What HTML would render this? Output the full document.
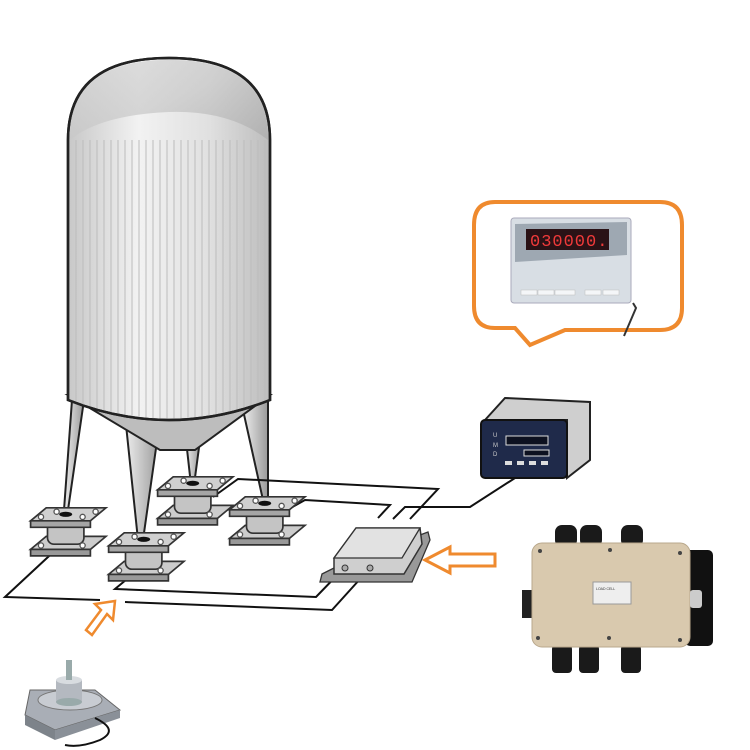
<!DOCTYPE html>
<html><head><style>html,body{margin:0;padding:0;background:#fff}svg{display:block}</style></head>
<body>
<svg width="750" height="750" viewBox="0 0 750 750" xmlns="http://www.w3.org/2000/svg" font-family="Liberation Sans, sans-serif">
<defs>
<linearGradient id="tank" x1="0" x2="1" y1="0" y2="0">
<stop offset="0" stop-color="#c8c8c8"/><stop offset="0.35" stop-color="#f2f2f2"/><stop offset="0.7" stop-color="#e0e0e0"/><stop offset="1" stop-color="#bdbdbd"/></linearGradient>
<pattern id="stripes" width="7" height="10" patternUnits="userSpaceOnUse"><rect width="7" height="10" fill="none"/><line x1="6" y1="0" x2="6" y2="10" stroke="#bcbcbc" stroke-width="1"/></pattern>
<linearGradient id="dome" x1="0" x2="1" y1="0" y2="1"><stop offset="0" stop-color="#d8d8d8"/><stop offset="0.5" stop-color="#c8c8c8"/><stop offset="1" stop-color="#ababab"/></linearGradient>
<linearGradient id="leg" x1="0" x2="1"><stop offset="0" stop-color="#eee"/><stop offset="1" stop-color="#999"/></linearGradient>
<g id="cell">
<polygon points="-28,8 18,8 30,-2 -16,-2" fill="#ccc" stroke="#333" stroke-width="1.3"/>
<polygon points="-28,8 18,8 18,13 -28,13" fill="#999" stroke="#333" stroke-width="1.3"/>
<rect x="-15" y="-14" width="28" height="18" rx="5" fill="#c4c4c4" stroke="#333" stroke-width="1.3"/>
<polygon points="-28,-14 18,-14 30,-24 -16,-24" fill="#d0d0d0" stroke="#333" stroke-width="1.3"/>
<polygon points="-28,-14 18,-14 18,-9 -28,-9" fill="#a5a5a5" stroke="#333" stroke-width="1.3"/>
<circle cx="-20" cy="-17" r="2" fill="#fff" stroke="#555"/><circle cx="12" cy="-17" r="2" fill="#fff" stroke="#555"/>
<circle cx="-8" cy="-21" r="2" fill="#fff" stroke="#555"/><circle cx="22" cy="-21" r="2" fill="#fff" stroke="#555"/>
<circle cx="-20" cy="5" r="2" fill="#fff" stroke="#555"/><circle cx="12" cy="5" r="2" fill="#fff" stroke="#555"/>
<ellipse cx="-1" cy="-19" rx="5" ry="2" fill="#111"/>
</g>
</defs>
<!-- legs -->
<polygon points="72,400 84,400 68,510 64,510" fill="url(#leg)" stroke="#222" stroke-width="2"/>
<polygon points="125,415 160,420 143,540 138,540" fill="url(#leg)" stroke="#222" stroke-width="2"/>
<polygon points="186,440 200,440 194,485 191,485" fill="url(#leg)" stroke="#222" stroke-width="2"/>
<polygon points="243,410 268,400 268,500 263,500" fill="url(#leg)" stroke="#222" stroke-width="2"/>
<!-- cone -->
<polygon points="68,395 270,395 195,450 160,450" fill="#bdbdbd" stroke="#222" stroke-width="2"/>
<!-- tank body -->
<path d="M68,140 Q68,58 169,58 Q270,58 270,140 L270,400 Q169,440 68,400 Z" fill="url(#tank)" stroke="#222" stroke-width="2.5"/>
<path d="M70,140 L268,140 L268,400 Q169,438 70,400 Z" fill="url(#stripes)"/>
<path d="M70,140 Q70,60 169,60 Q268,60 268,140 Q230,110 169,112 Q100,115 70,140 Z" fill="url(#dome)" opacity="0.7"/>
<path d="M68,140 Q68,58 169,58 Q270,58 270,140 L270,400 Q169,440 68,400 Z" fill="none" stroke="#222" stroke-width="2.5"/>
<!-- wires -->
<g fill="none" stroke="#111" stroke-width="2">
<polyline points="62,544 5,597 100,600"/>
<polyline points="138,570 115,589 316,597 345,567"/>
<polyline points="125,602 332,610 370,568"/>
<polyline points="213,497 238,479 438,489 410,519"/>
<polyline points="287,510 305,500 390,505 378,518"/>
<polyline points="393,519 405,507 450,507 470,507 515,478"/>
</g>
<!-- load cells -->
<use href="#cell" transform="translate(67,539) scale(1.3)"/>
<use href="#cell" transform="translate(145,564) scale(1.3)"/>
<use href="#cell" transform="translate(194,508) scale(1.3)"/>
<use href="#cell" transform="translate(266,528) scale(1.3)"/>
<!-- junction box -->
<polygon points="320,582 412,582 430,540 428,532 338,566 322,574" fill="#999" stroke="#333" stroke-width="1.3"/>
<polygon points="334,574 404,574 422,544 420,528 356,528 334,558" fill="#cfcfcf" stroke="#333" stroke-width="1.5"/>
<polygon points="334,558 402,558 420,528 356,528" fill="#e2e2e2" stroke="#333" stroke-width="1.3"/>
<circle cx="345" cy="568" r="3" fill="#aaa" stroke="#333"/><circle cx="370" cy="568" r="3" fill="#aaa" stroke="#333"/>
<!-- indicator -->
<polygon points="485,420 505,398 590,402 590,460 567,478 567,420" fill="#cfcfcf" stroke="#222" stroke-width="2"/>
<rect x="481" y="420" width="86" height="58" rx="4" fill="#1f2a4a" stroke="#111" stroke-width="2"/>
<rect x="506" y="436" width="42" height="9" fill="#0d1120" stroke="#ddd"/>
<rect x="524" y="450" width="25" height="6" fill="#0d1120" stroke="#ddd"/>
<rect x="505" y="461" width="7" height="4" fill="#ddd"/><rect x="517" y="461" width="7" height="4" fill="#ddd"/><rect x="529" y="461" width="7" height="4" fill="#ddd"/><rect x="541" y="461" width="7" height="4" fill="#ddd"/>
<text x="493" y="437" font-size="6" fill="#ccc">U</text><text x="493" y="447" font-size="6" fill="#ccc">M</text><text x="493" y="456" font-size="6" fill="#ccc">D</text>
<!-- big junction box photo -->
<rect x="685" y="550" width="28" height="96" rx="5" fill="#111"/>
<rect x="522" y="590" width="14" height="28" fill="#222"/>
<g fill="#1a1a1a"><rect x="555" y="525" width="22" height="22" rx="7"/><rect x="580" y="525" width="22" height="22" rx="7"/><rect x="621" y="525" width="22" height="22" rx="7"/>
<rect x="552" y="645" width="20" height="28" rx="4"/><rect x="579" y="645" width="20" height="28" rx="4"/><rect x="621" y="645" width="20" height="28" rx="4"/></g>
<rect x="532" y="543" width="158" height="104" rx="10" fill="#d9c9ae" stroke="#b9a88c"/>
<rect x="593" y="582" width="38" height="22" fill="#eee" stroke="#999"/>
<text x="596" y="590" font-size="3.5" fill="#333">LOAD CELL</text>
<rect x="690" y="590" width="12" height="18" rx="3" fill="#ccc"/>
<circle cx="540" cy="551" r="2" fill="#444"/><circle cx="610" cy="550" r="2" fill="#444"/><circle cx="680" cy="553" r="2" fill="#444"/><circle cx="538" cy="638" r="2" fill="#444"/><circle cx="609" cy="638" r="2" fill="#444"/><circle cx="680" cy="640" r="2" fill="#444"/>
<!-- speech bubble -->
<path d="M495,202 L660,202 Q682,202 682,225 L682,308 Q682,330 660,330 L565,330 L530,345 L515,328 L495,328 Q474,328 474,306 L474,225 Q474,202 495,202 Z" fill="#fff" stroke="#ef8a2e" stroke-width="4"/>
<rect x="511" y="218" width="120" height="85" rx="3" fill="#d8dee4" stroke="#aab"/>
<polygon points="515,224 627,222 627,255 515,262" fill="#9ea8b2"/>
<rect x="526" y="229" width="83" height="21" fill="#2a1216"/>
<text x="530" y="246" font-size="17" fill="#f03a3a" font-family="Liberation Mono, monospace" letter-spacing="1">030000.</text>
<g fill="#f4f6f8" stroke="#bbb" stroke-width="0.5"><rect x="521" y="290" width="16" height="5"/><rect x="538" y="290" width="16" height="5"/><rect x="555" y="290" width="20" height="5"/><rect x="585" y="290" width="16" height="5"/><rect x="603" y="290" width="16" height="5"/></g>
<path d="M633,303 L636,308 L624,336" fill="none" stroke="#333" stroke-width="2"/>
<!-- orange arrows -->
<polygon points="425,560 450,547 450,554 495,554 495,566 450,566 450,573" fill="#fff" stroke="#ef8a2e" stroke-width="3"/>
<polygon points="115,601 113,620 107,614 92,635 86,630 101,610 95,604" fill="#fff" stroke="#ef8a2e" stroke-width="2.5"/>
<!-- load cell photo -->
<polygon points="30,690 95,690 120,710 55,730 25,715" fill="#a9aeb6" stroke="#666"/>
<polygon points="25,715 55,730 55,740 25,725" fill="#7d838a"/>
<polygon points="55,730 120,710 120,718 55,740" fill="#8a9098"/>
<ellipse cx="70" cy="700" rx="32" ry="10" fill="#c8ccd2" stroke="#777"/>
<rect x="56" y="680" width="26" height="22" fill="#b4b9c0"/>
<ellipse cx="69" cy="702" rx="13" ry="4" fill="#9aa"/>
<ellipse cx="69" cy="680" rx="13" ry="4" fill="#d8dce0"/>
<rect x="66" y="660" width="6" height="20" fill="#9aa"/>
<path d="M95,718 Q120,730 100,740 Q80,748 65,745" fill="none" stroke="#111" stroke-width="2"/>
</svg>
</body></html>
